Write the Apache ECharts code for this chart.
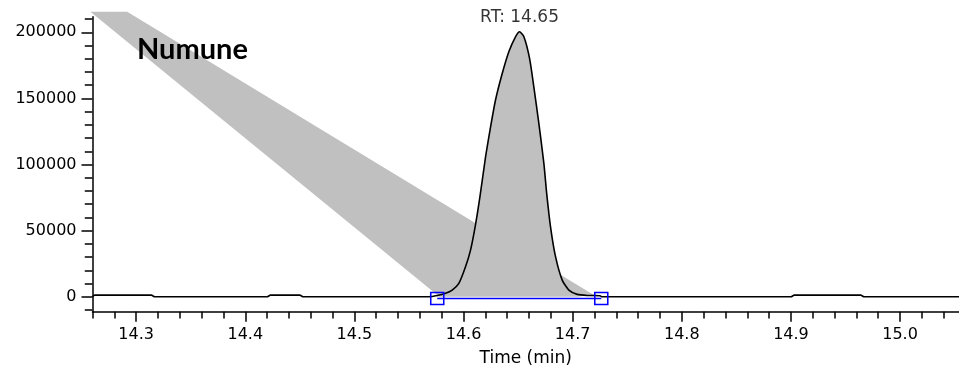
<!DOCTYPE html>
<html><head><meta charset="utf-8">
<script src="https://cdn.jsdelivr.net/npm/echarts@6/dist/echarts.min.js"></script>
<style>html,body{margin:0;padding:0;background:#fff}#c{width:959px;height:372px}</style>
</head><body><div id="c"></div>
<script>
// ---- data ----
const traceTime = [14.260,14.262,14.314,14.317,14.420,14.423,14.450,14.453,14.568,14.5759,14.5835,14.5896,14.5957,14.6018,14.6064,14.6109,14.6150,14.6202,14.6248,14.6293,14.6355,14.6415,14.6477,14.6513,14.6553,14.6605,14.6644,14.6690,14.6736,14.6762,14.6797,14.6843,14.6904,14.6965,14.7042,14.7134,14.7250,14.7265,14.900,14.903,14.964,14.967,15.054];
const traceValue = [0,1200,1200,0,0,1200,1200,0,0,900,2570,5070,10130,22700,35300,54200,75500,105900,128600,148800,169000,185300,196700,200450,196700,180300,158800,131200,100900,78000,52900,30300,12600,5070,1800,1000,800,0,0,1200,1200,0,0];
const peakTime = [14.5759,14.5835,14.5896,14.5957,14.6018,14.6064,14.6109,14.6150,14.6202,14.6248,14.6293,14.6355,14.6415,14.6477,14.6513,14.6553,14.6605,14.6644,14.6690,14.6736,14.6762,14.6797,14.6843,14.6904,14.6965,14.7042,14.7134];
const peakValue = [900,2570,5070,10130,22700,35300,54200,75500,105900,128600,148800,169000,185300,196700,200450,196700,180300,158800,131200,100900,78000,52900,30300,12600,5070,1800,1000];
const apexTime = [14.6513];
const apexValue = [200450];
const baselineTime = [14.5759,14.7262];
const baselineValue = [-1300,-1300];
const wedgeTime = [14.2581,14.2918,14.7194,14.5759];
const wedgeValue = [215600,215600,1300,1300];
const xMajorTicks = [14.3,14.4,14.5,14.6,14.7,14.8,14.9,15.0];
const xMinorTicks = [14.26,14.28,14.30,14.32,14.34,14.36,14.38,14.40,14.42,14.44,14.46,14.48,14.50,14.52,14.54,14.56,14.58,14.60,14.62,14.64,14.66,14.68,14.70,14.72,14.74,14.76,14.78,14.80,14.82,14.84,14.86,14.88,14.90,14.92,14.94,14.96,14.98,15.00,15.02,15.04];
const yMajorTicks = [0,50000,100000,150000,200000];
const yMinorTicks = [-10000,0,10000,20000,30000,40000,50000,60000,70000,80000,90000,100000,110000,120000,130000,140000,150000,160000,170000,180000,190000,200000,210000];
const xMin = 14.26, xMax = 15.054, yMin = -11300, yMax = 211800;
const sampleName = 'Numune';
const xTitle = 'Time (min)';

const zip = (a, b) => a.map((v, i) => [v, b[i]]);
const FONT = 'DejaVu Sans';
const chart = echarts.init(document.getElementById('c'));
const axisLineStyle = {color: '#000', width: 1.5};
chart.setOption({
  animation: false,
  backgroundColor: '#fff',
  grid: {left: 92.5, right: 0, top: 16.7, bottom: 60.3, containLabel: false},
  xAxis: [
    {type: 'value', min: xMin, max: xMax, position: 'bottom',
     axisLine: {show: true, onZero: false, lineStyle: axisLineStyle},
     axisTick: {show: true, customValues: xMajorTicks, length: 10, lineStyle: axisLineStyle},
     axisLabel: {customValues: xMajorTicks, margin: 15, color: '#000', fontFamily: FONT, fontSize: 16,
                 formatter: v => v.toFixed(1)},
     splitLine: {show: false},
     name: xTitle, nameLocation: 'middle', nameGap: 38,
     nameTextStyle: {color: '#000', fontFamily: FONT, fontSize: 17}},
    {type: 'value', min: xMin, max: xMax, position: 'bottom',
     axisLine: {show: false, onZero: false},
     axisTick: {show: true, customValues: xMinorTicks, length: 6.7, lineStyle: axisLineStyle},
     axisLabel: {show: false}, splitLine: {show: false}}
  ],
  yAxis: [
    {type: 'value', min: yMin, max: yMax, position: 'left',
     axisLine: {show: true, onZero: false, lineStyle: axisLineStyle},
     axisTick: {show: true, customValues: yMajorTicks, length: 11, lineStyle: axisLineStyle},
     axisLabel: {customValues: yMajorTicks, margin: 16, color: '#000', fontFamily: FONT, fontSize: 16,
                 formatter: v => String(v)},
     splitLine: {show: false}},
    {type: 'value', min: yMin, max: yMax, position: 'left',
     axisLine: {show: false, onZero: false},
     axisTick: {show: true, customValues: yMinorTicks, length: 7.7, lineStyle: axisLineStyle},
     axisLabel: {show: false}, splitLine: {show: false}}
  ],
  series: [
    {type: 'custom', z: 1, clip: false, silent: true,
     data: zip(wedgeTime, wedgeValue),
     renderItem: (params, api) => {
       if (params.dataIndex !== 0) return null;
       const pts = wedgeTime.map((t, i) => api.coord([t, wedgeValue[i]]));
       return {type: 'polygon', shape: {points: pts}, style: {fill: '#c0c0c0'}};
     }},
    {type: 'line', z: 2, data: zip(peakTime, peakValue), symbol: 'none', smooth: 0.2,
     lineStyle: {width: 0}, areaStyle: {color: '#c0c0c0', opacity: 1}},
    {type: 'line', z: 3, data: zip(traceTime, traceValue), symbol: 'none', smooth: 0.2,
     lineStyle: {color: '#000', width: 1.6}},
    {type: 'line', z: 4, data: zip(baselineTime, baselineValue), symbol: 'rect', symbolSize: [13, 12],
     showSymbol: true, lineStyle: {color: '#0000ff', width: 1.5},
     itemStyle: {color: 'none', borderColor: '#0000ff', borderWidth: 1.5}},
    {type: 'scatter', z: 5, data: zip(apexTime, apexValue), symbolSize: 0,
     label: {show: true, position: 'top', distance: 6, color: '#000', fontFamily: FONT, fontSize: 17,
             formatter: p => 'RT: ' + p.value[0].toFixed(2)}}
  ],
  graphic: [
    {type: 'text', left: 137, top: 35, z: 10,
     style: {text: sampleName, fill: '#000', font: 'bold 29px Lato'}}
  ]
});
</script></body></html>
